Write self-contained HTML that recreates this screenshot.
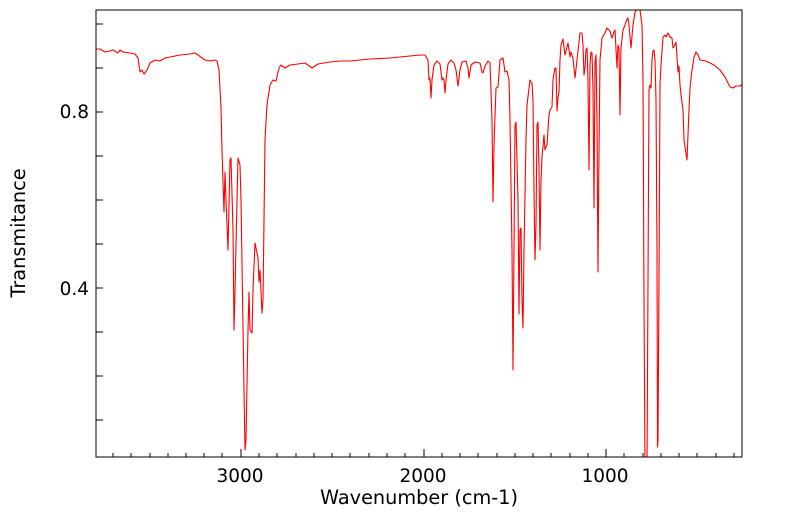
<!DOCTYPE html>
<html><head><meta charset="utf-8"><style>
html,body{margin:0;padding:0;background:#fff;}
svg{display:block;font-family:"DejaVu Sans",sans-serif;}
</style></head><body>
<svg width="799" height="516" viewBox="0 0 799 516" xmlns="http://www.w3.org/2000/svg">
<defs><clipPath id="c"><rect x="96" y="10" width="646" height="447"/></clipPath></defs>
<rect width="799" height="516" fill="#fff"/>
<g clip-path="url(#c)">
<polyline fill="none" stroke="#ff0000" stroke-width="1.1" stroke-linejoin="round" points="
96,49 100,49 105,52 110,51 113,50 118,53 120,50 123,52 130,53 135,54 138,58 140,72 142,70 144,74 147,70 150,63 155,60 160,61 165,58 170,57 180,55 190,54 195,53 198,55 205,60 210,61 215,60 217,61 219,70 221,108 222,150 224,212 225,172 226,200 228,250 230,160 231,158 233,230 234,330 235,290 238,158 240,165 241,200 244,390 245,450 246,440 248,330 249,292 250,330 252,333 253,290 255,243 258,258 259,282 260,270 262,313 263,300 265,140 267,105 270,85 273,80 276,81 279,68 281,65 285,68 290,65 298,64 305,63 312,68 318,64 330,62 340,61 350,61 370,59 390,58 410,56 420,55
425,55 428,60 429,80 430,78 431,98 432,80 434,65 437,61 440,64 442,80 443,78 444,80 445,93 446,80 448,64 451,60 454,63 456,70 458,86 460,70 462,62 466,61 468,68 469,78 471,65 475,62 480,63 482,72 483,73 485,66 488,61 490,63 492,120 493,202 494,145 496,88 498,87 500,60 503,58 505,72 507,71 509,80 510,120 512,250 513,370 515,126 516,122 518,200 519,314 520,230 521,228 522,300 523,328 524,250 526,140 527,105 530,80 532,83 533,100 534,190 535,260 536,225 537,125 538,122 539,170 540,250 541,180 542,157 544,135 545,150 546,147 547,145 549,115 550,110 552,107 553,80 555,68 556,68 557,111 558,98 559,92 560,60 561,45 563,39 565,55 568,43 570,57 571,52 573,58 575,78 577,60 580,33 582,33 583,45 584,75 585,67 586,50 587,48 588,80 589,170 590,65 591,52 592,53 593,90 594,208 595,62 596,55 597,120 598,272 599,150 600,60 602,38 605,33 607,28 610,31 612,38 614,32 615,30 617,68 618,45 619,48 620,115 621,48 623,30 625,25 627,19 628,18 629,25 631,48 633,25 635,12 638,8 640,10 642,25 643,80 644,300 645,470 647,470 648,280 649,90 650,85 651,88 652,60 653,51 654,50 655,60 656,100 657,250 657.5,447 658,440 659,280 660,85 661,65 663,37 665,35 666,37 668,33 670,37 672,38 673,48 675,45 676,42 678,72 679,66 680,85 681,95 683,110 684,140 687,160 689,110 690,88 692,70 694,57 696,52 698,55 700,60 706,61 710,63 714,65 720,70 725,77 728,83 730,87 733,88 736,86 740,86 743,84"/>
</g>
<rect x="96" y="10" width="646" height="447" fill="none" stroke="#000" stroke-width="1"/>
<g stroke="#000" stroke-width="1">
<path d="M241,457v-8M424,457v-8M606,457v-8"/>
<path d="M113,457v-4M131,457v-4M150,457v-4M168,457v-4M186,457v-4M204,457v-4M222,457v-4M259,457v-4M277,457v-4M296,457v-4M314,457v-4M332,457v-4M350,457v-4M369,457v-4M387,457v-4M405,457v-4M442,457v-4M460,457v-4M478,457v-4M497,457v-4M515,457v-4M533,457v-4M551,457v-4M570,457v-4M588,457v-4M624,457v-4M643,457v-4M661,457v-4M679,457v-4M697,457v-4M716,457v-4M734,457v-4"/>
<path d="M96,24h7M96,68h7M96,112h7M96,156h7M96,200h7M96,244h7M96,288h7M96,332h7M96,376h7M96,420h7"/>
</g>
<g fill="#000">
<g font-size="18.5">
<text x="240" y="482" text-anchor="middle">3000</text>
<text x="423" y="482" text-anchor="middle">2000</text>
<text x="605" y="482" text-anchor="middle">1000</text>
<text x="89" y="118" text-anchor="end">0.8</text>
<text x="89" y="295" text-anchor="end">0.4</text>
</g>
<g font-size="19.3">
<text x="419" y="504" text-anchor="middle">Wavenumber (cm-1)</text>
<text transform="translate(25,233) rotate(-90)" text-anchor="middle">Transmitance</text>
</g>
</g>
</svg>
</body></html>
